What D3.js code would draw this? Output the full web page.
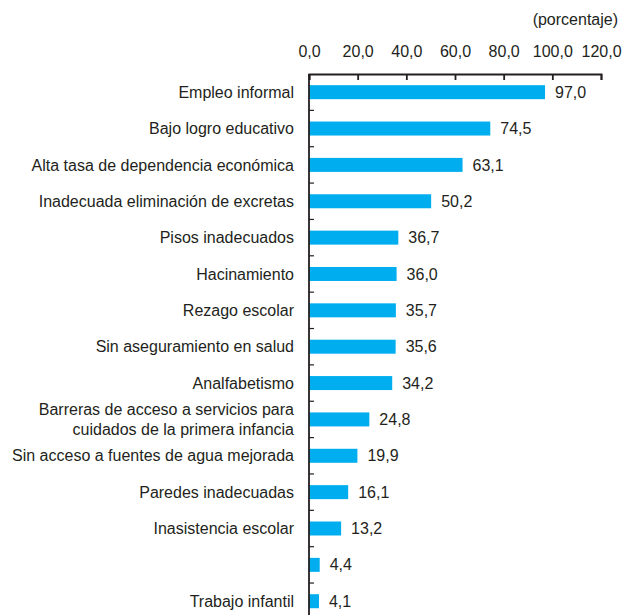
<!DOCTYPE html>
<html lang="es">
<head>
<meta charset="UTF-8">
<script src="https://cdn.jsdelivr.net/npm/d3@7"></script>
<style>
  body { margin: 0; background: #fff; }
  svg text { font-family: "Liberation Sans", Arial, Helvetica, sans-serif; fill: #231f20; }
  .axis path, .axis line { stroke: #231f20; }
</style>
</head>
<body>
<script>
// Categories (top to bottom) and values (%)
var categories = [
  "Empleo informal",
  "Bajo logro educativo",
  "Alta tasa de dependencia económica",
  "Inadecuada eliminación de excretas",
  "Pisos inadecuados",
  "Hacinamiento",
  "Rezago escolar",
  "Sin aseguramiento en salud",
  "Analfabetismo",
  "Barreras de acceso a servicios para\ncuidados de la primera infancia",
  "Sin acceso a fuentes de agua mejorada",
  "Paredes inadecuadas",
  "Inasistencia escolar",
  "",
  "Trabajo infantil"
];
var values = [97.0, 74.5, 63.1, 50.2, 36.7, 36.0, 35.7, 35.6, 34.2, 24.8, 19.9, 16.1, 13.2, 4.4, 4.1];
var xTicks = [0, 20, 40, 60, 80, 100, 120];

var width = 623, height = 615;
var margin = {top: 74, left: 309, right: 22};
var step = 36.36;
var fs = 16;

var svg = d3.select("body").append("svg")
  .attr("width", width)
  .attr("height", height);

var fmt = function(v) { return d3.format(".1f")(v).replace(".", ","); };

var x = d3.scaleLinear().domain([0, 120]).range([margin.left, width - margin.right]);

// keys by index since one label is blank
var keys = categories.map(function(d, i) { return i; });
var y = d3.scaleBand().domain(keys)
  .range([margin.top, margin.top + step * keys.length])
  .paddingInner(0.615).paddingOuter(0.3075);

// top axis
var xAxis = d3.axisTop(x).tickValues(xTicks).tickFormat(fmt)
  .tickSizeInner(-6).tickSizeOuter(-6).tickPadding(17);
var gx = svg.append("g").attr("class", "axis")
  .attr("transform", "translate(0," + margin.top + ")")
  .call(xAxis);
gx.selectAll("path, line").attr("stroke-width", 1.8);
gx.selectAll("text").attr("font-size", fs).attr("fill", "#231f20");

svg.append("text")
  .attr("x", width - 5).attr("y", 25)
  .attr("text-anchor", "end")
  .attr("font-size", fs)
  .text("(porcentaje)");

// bars
svg.append("g").selectAll("rect")
  .data(values)
  .join("rect")
  .attr("x", x(0))
  .attr("y", function(d, i) { return y(i); })
  .attr("width", function(d) { return x(d) - x(0); })
  .attr("height", y.bandwidth())
  .attr("fill", "#00aeef");

// value labels
svg.append("g").selectAll("text")
  .data(values)
  .join("text")
  .attr("x", function(d) { return x(d) + 10; })
  .attr("y", function(d, i) { return y(i) + y.bandwidth() / 2; })
  .attr("dy", "0.35em")
  .attr("font-size", fs)
  .text(fmt);

// category labels
var lab = svg.append("g").selectAll("text")
  .data(categories)
  .join("text")
  .attr("text-anchor", "end")
  .attr("font-size", fs)
  .attr("y", function(d, i) { return y(i) + y.bandwidth() / 2; });
lab.each(function(d) {
  var lines = d.split("\n");
  var t = d3.select(this);
  lines.forEach(function(l, j) {
    t.append("tspan")
      .attr("x", 294)
      .attr("dy", j == 0 ? (0.35 - (lines.length - 1) * 0.62) + "em" : "1.24em")
      .text(l);
  });
});

// left axis line with ticks at band boundaries
svg.append("line")
  .attr("x1", x(0)).attr("x2", x(0))
  .attr("y1", margin.top).attr("y2", height)
  .attr("stroke", "#231f20").attr("stroke-width", 1.8);
svg.append("g").selectAll("line")
  .data(keys.slice(1))
  .join("line")
  .attr("x1", x(0)).attr("x2", x(0) + 5)
  .attr("y1", function(i) { return y(i) - y.step() * y.paddingInner() / 2; })
  .attr("y2", function(i) { return y(i) - y.step() * y.paddingInner() / 2; })
  .attr("stroke", "#231f20").attr("stroke-width", 1.2);
</script>
</body>
</html>
